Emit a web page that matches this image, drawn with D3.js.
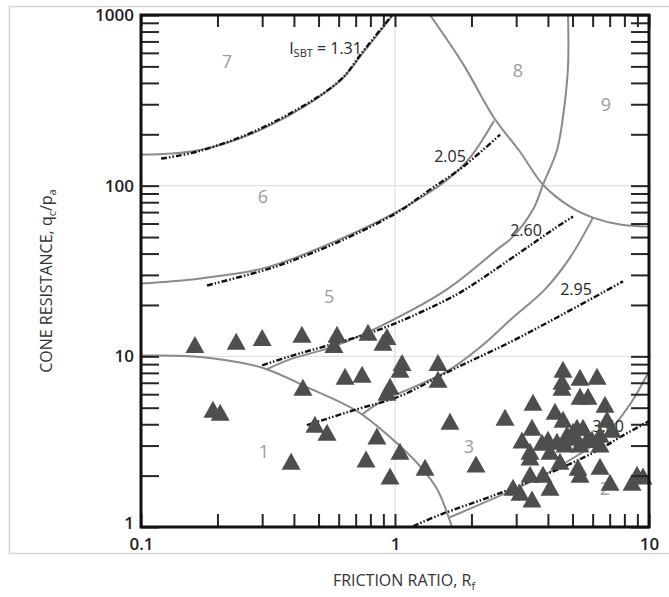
<!DOCTYPE html>
<html>
<head>
<meta charset="utf-8">
<script src="https://cdn.jsdelivr.net/npm/d3@7"></script>
<style>
  body { margin: 0; background: #fff; }
  svg { display: block; }
  text { font-family: "Open Sans", "DejaVu Sans", sans-serif; }
</style>
</head>
<body>
<svg id="chart" width="669" height="597"></svg>
<script>
// ---- Axis labels -------------------------------------------------------
const xTickLabels = ["0.1", "1", "10"];
const yTickLabels = ["1", "10", "100", "1000"];

// ---- SBT zone boundaries, [Rf (%), qc/pa] ------------------------------
const zone1Boundary = [[0.1, 10.1], [0.156, 10.0], [0.245, 9.2], [0.313, 8.4], [0.45, 6.6],
  [0.709, 4.77], [1.046, 2.98], [1.254, 2.27], [1.464, 1.67], [1.676, 1.0]];
const zone2Boundary = [[1.646, 1.14], [2.915, 1.65], [3.724, 1.96], [4.887, 2.47], [6.242, 3.14],
  [7.347, 4.0], [8.573, 5.46], [9.384, 6.86], [10, 8.17]];
const zone34Boundary = [[0.742, 4.58], [0.873, 5.38], [1.602, 8.17], [2.161, 11.3], [2.915, 16.9],
  [3.896, 24.7], [4.887, 37.9], [6.019, 65.0]];
const zone45Boundary = [[4.799, 1000], [4.799, 497], [4.586, 253], [4.343, 162], [3.826, 101.3],
  [3.494, 72.4], [2.915, 50.3], [2.521, 42.2], [1.602, 24.7], [0.873, 15.0], [0.570, 11.4],
  [0.386, 9.6], [0.313, 8.4]];
const zone56Boundary = [[0.1, 26.7], [0.171, 28.6], [0.313, 33.2], [0.602, 48.3], [1.018, 70.5],
  [1.602, 108], [1.974, 146], [2.453, 240]];
const zone67Boundary = [[0.1, 152], [0.171, 162], [0.313, 221], [0.602, 406], [0.748, 600], [0.982, 1000]];
const zone8Boundary = [[1.373, 1000], [1.852, 517], [2.453, 250], [3.105, 158], [3.826, 101.3],
  [4.887, 75.4], [6.019, 65.0], [7.688, 59.2], [10, 57.6]];

// ---- I_SBT contours, [Rf (%), qc/pa] -----------------------------------
const isbt131 = [[0.12, 144], [0.171, 160], [0.313, 225], [0.602, 409], [0.748, 612], [0.975, 1000]];
const isbt205 = [[0.182, 26.0], [0.313, 32.3], [0.386, 35.9], [0.602, 47.0], [1.018, 69.5],
  [1.373, 94.8], [1.852, 129], [2.591, 199]];
const isbt260 = [[0.30, 8.86], [0.386, 10], [0.873, 14.4], [1.602, 21.5], [1.974, 25.7],
  [3.105, 40.6], [4.188, 55.3], [5.022, 65.9]];
const isbt295 = [[0.45, 3.95], [0.709, 4.90], [1.046, 5.84], [1.602, 8.06], [2.836, 12.1],
  [4.343, 16.9], [6.591, 23.7], [7.90, 27.5]];
const isbt360 = [[1.177, 1.01], [1.504, 1.18], [2.591, 1.58], [4.756, 2.30], [6.414, 2.86],
  [7.688, 3.36], [10, 4.17]];

// ---- Zone numbers and contour labels, anchored in data units -----------
const zoneLabels = [
  { text: "1", rf: 0.305, q: 2.78 }, { text: "2", rf: 6.71, q: 1.67 },
  { text: "3", rf: 1.956, q: 2.98 }, { text: "5", rf: 0.550, q: 22.4 },
  { text: "6", rf: 0.302, q: 86.2 }, { text: "7", rf: 0.218, q: 531 },
  { text: "8", rf: 3.05, q: 476 },   { text: "9", rf: 6.77, q: 298 }
];
const contourLabels = [
  { text: "2.05", rf: 1.646, q: 148 }, { text: "2.60", rf: 3.28, q: 54.6 },
  { text: "2.95", rf: 5.16, q: 24.7 }, { text: "3.60", rf: 6.90, q: 3.90 }
];
const isbtTitle = { value: "1.31", rf: 0.383, q: 641 };

// ---- CPT data points, [Rf (%), qc/pa] ----------------------------------
const cptPoints = [
  [0.163, 11.75], [0.237, 12.24], [0.30, 12.91], [0.430, 13.45], [0.591, 13.45], [0.575, 11.75],
  [0.783, 13.82], [0.930, 13.09], [0.897, 12.1], [0.192, 4.90], [0.205, 4.70], [0.434, 6.59],
  [0.636, 7.64], [0.742, 7.85], [0.484, 4.00], [0.540, 3.59], [0.390, 2.43], [0.849, 3.41],
  [0.769, 2.50], [0.956, 1.99], [1.046, 2.78], [1.066, 9.2], [1.046, 8.4], [0.956, 6.68],
  [0.930, 6.16], [1.477, 9.2], [1.477, 7.34], [1.313, 2.24], [1.646, 4.17], [2.084, 2.34],
  [2.711, 4.40], [3.494, 5.38], [3.162, 3.23], [4.586, 8.4], [4.544, 7.14], [4.544, 6.59],
  [5.351, 7.54], [6.242, 7.64], [5.351, 5.84], [5.752, 5.84], [6.711, 5.24], [4.266, 4.77],
  [4.586, 4.28], [3.462, 3.84], [6.833, 4.28], [5.206, 3.84], [5.497, 3.84], [4.756, 3.50],
  [4.977, 3.36], [3.790, 3.14], [4.343, 3.18], [5.700, 3.27], [6.414, 3.50], [6.414, 3.06],
  [3.400, 2.78], [3.400, 2.57], [4.076, 2.78], [4.462, 2.43], [5.351, 3.06], [5.254, 2.24],
  [5.351, 2.04], [6.414, 2.27], [3.400, 2.04], [3.826, 2.04], [4.076, 1.71], [7.023, 1.83],
  [2.915, 1.71], [3.105, 1.60], [3.462, 1.46], [8.573, 1.83], [8.971, 2.04], [9.471, 1.99],
  [5.022, 3.64], [5.966, 3.27], [4.670, 3.06], [4.003, 3.27], [7.151, 3.74]
];

// ---- Drawing -----------------------------------------------------------
const svg = d3.select("#chart");
const plot = { left: 141, right: 649, top: 15, bottom: 527 };

const x = d3.scaleLog().domain([0.1, 10]).range([plot.left, plot.right]);
const y = d3.scaleLog().domain([1, 1000]).range([plot.bottom, plot.top]);

// light outer frame
svg.append("rect")
  .attr("x", 9.5).attr("y", 6.5).attr("width", 680).attr("height", 547)
  .attr("fill", "none").attr("stroke", "#d4d4d4").attr("stroke-width", 1.5);

svg.append("defs").append("clipPath").attr("id", "plot-clip")
  .append("rect")
  .attr("x", plot.left).attr("y", plot.top)
  .attr("width", plot.right - plot.left).attr("height", plot.bottom - plot.top);

// decade grid
const grid = svg.append("g").attr("stroke", "#d9d9d9").attr("stroke-width", 1);
grid.selectAll("line.gx").data([1]).join("line")
  .attr("x1", d => x(d)).attr("x2", d => x(d))
  .attr("y1", plot.top).attr("y2", plot.bottom);
grid.selectAll("line.gy").data([10, 100]).join("line")
  .attr("x1", plot.left).attr("x2", plot.right + 3)
  .attr("y1", d => y(d)).attr("y2", d => y(d));

const curve = d3.line()
  .x(d => x(d[0])).y(d => y(d[1]))
  .curve(d3.curveCatmullRom.alpha(0.5));

const lines = svg.append("g").attr("clip-path", "url(#plot-clip)").attr("fill", "none");

// zone boundaries
lines.selectAll("path.zone")
  .data([zone1Boundary, zone2Boundary, zone34Boundary, zone45Boundary,
         zone56Boundary, zone67Boundary, zone8Boundary])
  .join("path")
  .attr("class", "zone")
  .attr("d", curve)
  .attr("stroke", "#8a8a8a")
  .attr("stroke-width", 2);

// I_SBT contours
lines.selectAll("path.isbt")
  .data([isbt131, isbt205, isbt260, isbt295, isbt360])
  .join("path")
  .attr("class", "isbt")
  .attr("d", curve)
  .attr("stroke", "#111")
  .attr("stroke-width", 2.4)
  .attr("stroke-dasharray", "6 2 1.5 2 1.5 2");

// zone numbers
svg.append("g").selectAll("text")
  .data(zoneLabels).join("text")
  .attr("x", d => x(d.rf)).attr("y", d => y(d.q))
  .attr("dy", "0.36em")
  .attr("text-anchor", "middle")
  .attr("font-size", 18)
  .attr("fill", "#9c9c9c")
  .text(d => d.text);

// contour values
svg.append("g").selectAll("text")
  .data(contourLabels).join("text")
  .attr("x", d => x(d.rf)).attr("y", d => y(d.q))
  .attr("dy", "0.36em")
  .attr("text-anchor", "middle")
  .attr("font-size", 16)
  .attr("fill", "#262626")
  .text(d => d.text);

const isbt = svg.append("text")
  .attr("x", x(isbtTitle.rf)).attr("y", y(isbtTitle.q))
  .attr("dy", "0.36em")
  .attr("font-size", 16)
  .attr("fill", "#262626");
isbt.append("tspan").text("I");
isbt.append("tspan").attr("font-size", 11).attr("dy", 3).text("SBT");
isbt.append("tspan").attr("dy", -3).text(" = " + isbtTitle.value);

// data points
const triW = 19, triH = 17;
const triangle = `M0,${-triH / 2}L${triW / 2},${triH / 2}L${-triW / 2},${triH / 2}Z`;
svg.append("g").selectAll("path")
  .data(cptPoints).join("path")
  .attr("transform", d => `translate(${x(d[0])},${y(d[1])})`)
  .attr("d", triangle)
  .attr("fill", "#4e4e4e");

// axes with inward ticks
const tickVals = y.ticks();
const xTickVals = x.ticks();
const yLabelFor = d => { const i = [1, 10, 100, 1000].indexOf(d); return i >= 0 ? yTickLabels[i] : ""; };
const xLabelFor = d => { const i = [0.1, 1, 10].findIndex(v => Math.abs(v - d) < 1e-9); return i >= 0 ? xTickLabels[i] : ""; };

function styleAxis(g) {
  g.select(".domain").remove();
  g.selectAll(".tick line").attr("stroke", "#262626").attr("stroke-width", 2);
  g.selectAll(".tick text")
    .attr("font-size", 17).attr("font-weight", 600).attr("fill", "#1e1e1e")
    .attr("font-family", "\"Open Sans\", sans-serif");
}

const leftAxis = svg.append("g").attr("transform", `translate(${plot.left},0)`)
  .call(d3.axisLeft(y).tickValues(tickVals).tickSize(-18).tickPadding(7).tickFormat(yLabelFor))
  .call(styleAxis);
// lowest label sits right on the corner, lift it slightly clear of "0.1"
leftAxis.selectAll(".tick text").filter(d => d === 1).attr("dy", "0.1em");

svg.append("g").attr("transform", `translate(${plot.right},0)`)
  .call(d3.axisRight(y).tickValues(tickVals).tickSize(-18).tickFormat(""))
  .call(styleAxis);
svg.append("g").attr("transform", `translate(0,${plot.bottom})`)
  .call(d3.axisBottom(x).tickValues(xTickVals).tickSize(-13).tickPadding(11).tickFormat(xLabelFor))
  .call(styleAxis);
svg.append("g").attr("transform", `translate(0,${plot.top})`)
  .call(d3.axisTop(x).tickValues(xTickVals).tickSize(-12).tickFormat(""))
  .call(styleAxis);

// plot frame
svg.append("rect")
  .attr("x", plot.left).attr("y", plot.top)
  .attr("width", plot.right - plot.left).attr("height", plot.bottom - plot.top)
  .attr("fill", "none").attr("stroke", "#111").attr("stroke-width", 3);

// axis titles
const yTitle = svg.append("text")
  .attr("transform", `translate(52,${(plot.top + plot.bottom) / 2 + 10}) rotate(-90)`)
  .attr("text-anchor", "middle")
  .attr("font-size", 16)
  .attr("fill", "#333");
yTitle.append("tspan").text("CONE RESISTANCE, q");
yTitle.append("tspan").attr("font-size", 11).attr("dy", 4).text("c");
yTitle.append("tspan").attr("dy", -4).text("/p");
yTitle.append("tspan").attr("font-size", 11).attr("dy", 4).text("a");

const xTitle = svg.append("text")
  .attr("x", 404).attr("y", 586)
  .attr("text-anchor", "middle")
  .attr("font-size", 16)
  .attr("fill", "#333");
xTitle.append("tspan").text("FRICTION RATIO, R");
xTitle.append("tspan").attr("font-size", 11).attr("dy", 4).text("f");
</script>
</body>
</html>
